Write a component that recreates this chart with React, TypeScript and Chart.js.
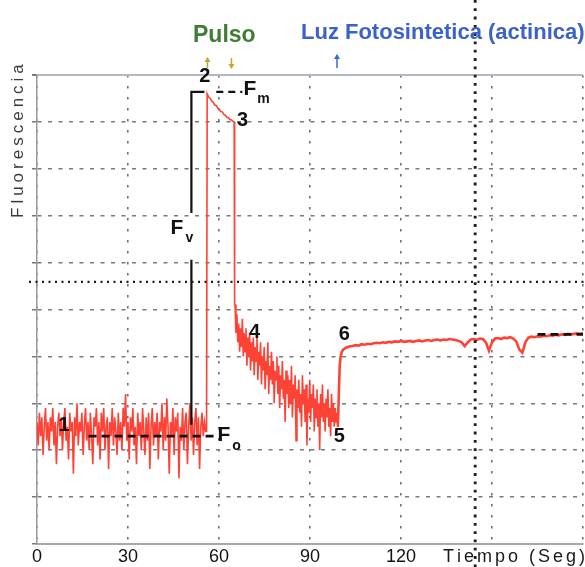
import React, { useEffect, useRef } from "react";
import { Chart, registerables } from "chart.js";

Chart.register(...registerables);

// ---- Axis / tick data ----
const xTickLabels = [0, 30, 60, 90, 120];
const xMin = 0;
const xMax = 180;
const xStep = 30;
const yMin = 0;
const yMax = 10;

// ---- Trace: dark-adapted baseline (Fo), sampled every 0.4 s from t = 0 ----
const darkStart = 0;
const darkStep = 0.4;
const darkF = [
  2.6, 2.1, 2.8, 2.3, 2.7, 1.9, 2.5, 2.9, 2.2, 2.6,
  2.0, 2.7, 2.4, 2.9, 2.1, 2.6, 1.7, 2.5, 2.8, 2.3,
  2.7, 2.0, 2.6, 2.9, 2.2, 2.5, 1.8, 2.8, 2.4, 2.6,
  1.5, 2.7, 2.3, 3.0, 2.1, 2.6, 2.4, 2.8, 1.9, 2.5,
  2.9, 2.2, 2.6, 2.0, 2.8, 2.3, 1.7, 2.7, 2.5, 2.9,
  2.1, 2.6, 1.8, 2.8, 2.4, 2.9, 2.0, 2.5, 2.7, 1.6,
  2.6, 2.3, 2.9, 2.1, 2.7, 2.4, 1.9, 2.8, 2.2, 2.6,
  2.0, 2.9, 2.5, 3.2, 2.2, 2.6, 1.8, 2.7, 2.4, 2.9,
  2.1, 2.5, 1.7, 2.8, 2.3, 2.6, 2.0, 2.9, 2.4, 1.9,
  2.7, 2.2, 2.8, 1.6, 2.5, 2.9, 2.1, 2.6, 2.3, 2.8,
  1.8, 2.6, 2.4, 3.0, 2.0, 2.7, 2.2, 3.1, 2.5, 1.5,
  2.6, 2.3, 2.9, 1.9, 2.7, 2.4, 2.8, 1.4, 2.5, 2.2,
  2.9, 2.0, 2.6, 2.8, 1.7, 2.5, 3.0, 2.2, 2.7, 1.9,
  2.6, 2.9, 2.1, 2.7, 1.6, 2.5, 2.8, 2.3, 2.6, 2.4,
];

// ---- Trace: saturating pulse (Fm) ----
const pulseT = [55.9, 56.1, 56.6, 57.1, 57.6, 58.1, 58.6, 59.1, 59.6, 60.1, 60.6, 61.1, 61.6, 62.1, 62.6, 63.1, 63.6, 64.1, 64.6, 65.0, 65.15];
const pulseF = [2.4, 9.6, 9.53, 9.5, 9.44, 9.42, 9.36, 9.35, 9.29, 9.27, 9.22, 9.21, 9.16, 9.14, 9.1, 9.09, 9.05, 9.04, 9.01, 9.0, 5.1];

// ---- Trace: decay after the pulse, sampled every 0.3 s from t = 65.3 ----
const decayStart = 65.3;
const decayStep = 0.3;
const decayF = [
  5.1, 4.5, 4.9, 4.3, 4.7, 4.1, 4.6, 4.2, 4.8, 4.0,
  4.5, 4.1, 4.6, 3.8, 4.4, 4.0, 4.5, 3.7, 4.3, 3.9,
  4.4, 3.6, 4.2, 3.9, 4.5, 3.5, 4.1, 3.8, 4.3, 3.4,
  4.0, 3.7, 4.2, 3.3, 3.9, 3.6, 4.3, 3.2, 3.8, 3.5,
  4.1, 3.4, 3.9, 3.0, 3.7, 3.5, 4.0, 3.2, 3.8, 2.9,
  3.6, 3.3, 3.9, 3.1, 3.5, 2.6, 3.7, 3.2, 3.6, 2.9,
  3.5, 3.0, 3.8, 2.7, 3.4, 3.1, 3.6, 2.2, 3.3, 2.9,
  3.5, 2.8, 3.2, 2.5, 3.6, 3.0, 3.3, 2.6, 3.4, 2.1,
  3.1, 2.8, 3.5, 2.6, 3.2, 2.9, 3.4, 2.4, 3.1, 2.7,
  3.3, 2.5, 3.0, 2.0, 3.2, 2.7, 3.4, 2.6, 3.0, 2.4,
  3.1, 2.7, 3.3, 2.5, 2.9, 2.3, 3.2, 2.6, 3.0, 2.5,
  2.9, 2.6, 2.8, 2.5,
];

// ---- Trace: actinic light on ----
const riseT = [99.2, 99.5, 99.8, 100.1, 100.5, 101, 102, 103];
const riseF = [2.5, 3.2, 3.8, 4.0, 4.1, 4.15, 4.19, 4.21];
const lightStart = 104;
const lightStep = 1;
const lightF = [
  4.22, 4.24, 4.23, 4.26, 4.25, 4.27, 4.26, 4.28, 4.29, 4.28,
  4.30, 4.29, 4.31, 4.30, 4.32, 4.31, 4.33, 4.31, 4.32, 4.33,
  4.31, 4.33, 4.34, 4.32, 4.34, 4.35, 4.33, 4.35, 4.36, 4.34,
  4.36, 4.35, 4.37, 4.36, 4.35, 4.33, 4.30, 4.22, 4.30, 4.36,
  4.37, 4.35, 4.38, 4.37, 4.30, 4.12, 4.30, 4.38, 4.39, 4.37,
  4.40, 4.39, 4.41, 4.38, 4.32, 4.15, 4.08, 4.30, 4.40, 4.42,
  4.41, 4.43, 4.42, 4.44, 4.43, 4.45, 4.44, 4.46, 4.45, 4.47,
  4.46, 4.48, 4.47, 4.48, 4.49, 4.48, 4.50,
];

// ---- Reference marks (data units: [time, fluorescence]) ----
const foLine = [[17, 2.3], [59.8, 2.3]];
const fmLine = [[59.1, 9.64], [67.7, 9.64]];
const fvBracket = [[55.2, 9.64], [50.9, 9.64], [50.9, 7.06], [50.9, null], [50.9, 6.06], [50.9, 2.54]];
const fsLine = [[165, 4.47], [180, 4.47]];
const markerLevel = 5.59; // heavy dotted horizontal
const markerTime = 144.45; // heavy dotted vertical
const pulseOnT = 56.2;
const pulseOffT = 64.1;
const actinicOnT = 98.9;

// ---- Point labels [text, time, fluorescence] ----
const pointLabels: [string, number, number][] = [
  ["1", 8.9, 2.52],
  ["2", 55.3, 9.96],
  ["3", 67.8, 9.02],
  ["4", 71.7, 4.52],
  ["5", 99.7, 2.3],
  ["6", 101.3, 4.46],
];
const fLabels: [string, string, number, number, number, number][] = [
  // main, subscript, tMain, vMain, tSub, vSub
  ["F", "m", 70.2, 9.7, 74.7, 9.49],
  ["F", "v", 46.1, 6.74, 50.2, 6.52],
  ["F", "o", 61.6, 2.32, 65.8, 2.09],
];

const FONT = "'Liberation Sans', Arial, sans-serif";

function drawSpaced(ctx: CanvasRenderingContext2D, text: string, x: number, y: number, spacing: number) {
  let cx = x;
  for (const ch of text) {
    ctx.fillText(ch, cx, y);
    cx += ctx.measureText(ch).width + spacing;
  }
}

function arrow(ctx: CanvasRenderingContext2D, x: number, yTop: number, yBot: number, up: boolean, color: string) {
  ctx.strokeStyle = color;
  ctx.fillStyle = color;
  ctx.lineWidth = 1.5;
  ctx.beginPath();
  ctx.moveTo(x, yTop);
  ctx.lineTo(x, yBot);
  ctx.stroke();
  ctx.beginPath();
  if (up) {
    ctx.moveTo(x, yTop - 1);
    ctx.lineTo(x - 3, yTop + 4);
    ctx.lineTo(x + 3, yTop + 4);
  } else {
    ctx.moveTo(x, yBot + 1);
    ctx.lineTo(x - 3, yBot - 4);
    ctx.lineTo(x + 3, yBot - 4);
  }
  ctx.closePath();
  ctx.fill();
}

const annotatePlugin = {
  id: "annotate",
  afterDraw(chart: any) {
    const { ctx, scales } = chart;
    const xs = scales.x;
    const ys = scales.y;
    const px = (t: number) => xs.getPixelForValue(t);
    const py = (v: number) => ys.getPixelForValue(v);
    ctx.save();

    // heavy dotted reference lines
    ctx.strokeStyle = "#1c1c1c";
    ctx.lineWidth = 2.2;
    ctx.setLineDash([2, 4.5]);
    ctx.beginPath();
    ctx.moveTo(29, py(markerLevel));
    ctx.lineTo(chart.width, py(markerLevel));
    ctx.stroke();
    ctx.lineWidth = 2.8;
    ctx.setLineDash([2.8, 5.5]);
    ctx.beginPath();
    ctx.moveTo(px(markerTime), 0);
    ctx.lineTo(px(markerTime), chart.height);
    ctx.stroke();
    ctx.setLineDash([]);

    // header texts
    ctx.textAlign = "left";
    ctx.textBaseline = "alphabetic";
    ctx.font = `bold 23px ${FONT}`;
    ctx.fillStyle = "#3f7d34";
    ctx.fillText("Pulso", 193, 42);
    ctx.font = `bold 22px ${FONT}`;
    ctx.fillStyle = "#3b62c8";
    ctx.fillText("Luz Fotosintetica (actinica)", 301, 39);

    // event arrows
    arrow(ctx, px(pulseOnT), 58, 68, true, "#b7a63c");
    arrow(ctx, px(pulseOffT), 58, 68, false, "#cfa22c");
    arrow(ctx, px(actinicOnT), 55, 68, true, "#3b6bd0");

    // y axis title
    ctx.save();
    ctx.translate(23, 218);
    ctx.rotate(-Math.PI / 2);
    ctx.font = `17px ${FONT}`;
    ctx.fillStyle = "#3a3a3a";
    ctx.textBaseline = "alphabetic";
    drawSpaced(ctx, "Fluorescencia", 0, 0, 4);
    ctx.restore();

    // x axis title
    ctx.font = `18px ${FONT}`;
    ctx.fillStyle = "#1a1a1a";
    ctx.textBaseline = "alphabetic";
    drawSpaced(ctx, "Tiempo (Seg)", 443, 562, 3);

    // point labels
    ctx.textAlign = "center";
    ctx.textBaseline = "middle";
    ctx.fillStyle = "#111";
    ctx.font = `bold 20px ${FONT}`;
    for (const [txt, t, v] of pointLabels) ctx.fillText(txt, px(t), py(v));
    for (const [main, sub, t1, v1, t2, v2] of fLabels) {
      ctx.font = `bold 21px ${FONT}`;
      ctx.fillText(main, px(t1), py(v1));
      ctx.font = `bold 14px ${FONT}`;
      ctx.fillText(sub, px(t2), py(v2));
    }
    ctx.restore();
  },
};

export default function App() {
  const ref = useRef<HTMLCanvasElement>(null);

  useEffect(() => {
    document.body.style.margin = "0";
    const canvas = ref.current;
    if (!canvas) return;

    const darkTrace: { x: number; y: number }[] = [];
    darkF.forEach((v, i) => darkTrace.push({ x: darkStart + i * darkStep, y: v }));
    pulseT.forEach((t, i) => darkTrace.push({ x: t, y: pulseF[i] }));
    decayF.forEach((v, i) => darkTrace.push({ x: +(decayStart + i * decayStep).toFixed(2), y: v }));

    const lightTrace: { x: number; y: number }[] = [];
    riseT.forEach((t, i) => lightTrace.push({ x: t, y: riseF[i] }));
    lightF.forEach((v, i) => lightTrace.push({ x: lightStart + i * lightStep, y: v }));

    const toPts = (arr: (number | null)[][]) => arr.map(([x, y]) => ({ x: x as number, y: y as any }));

    const blackLine = (data: any, width: number, dash: number[]) => ({
      type: "line" as const,
      data,
      borderColor: "#111",
      borderWidth: width,
      borderDash: dash,
      pointRadius: 0,
      spanGaps: false,
      order: 0,
    });

    const chart = new Chart(canvas, {
      type: "line",
      data: {
        datasets: [
          blackLine(toPts(foLine), 2.6, [8, 5]),
          blackLine(toPts(fmLine), 2.4, [7, 5]),
          blackLine(toPts(fvBracket), 2.2, []),
          blackLine(toPts(fsLine), 2.6, [8, 5]),
          {
            label: "Fluorescencia",
            data: darkTrace,
            borderColor: "#ff4236",
            borderWidth: 1.6,
            pointRadius: 0,
            tension: 0,
            order: 1,
          },
          {
            label: "Luz actinica",
            data: lightTrace,
            borderColor: "#ff4236",
            borderWidth: 2.6,
            pointRadius: 0,
            tension: 0,
            order: 1,
          },
        ],
      },
      options: {
        responsive: false,
        animation: false,
        events: [],
        layout: { padding: { left: 37, top: 75, right: 1, bottom: 0 } },
        plugins: { legend: { display: false }, tooltip: { enabled: false } },
        scales: {
          x: {
            type: "linear",
            min: xMin,
            max: xMax,
            ticks: {
              stepSize: xStep,
              autoSkip: false,
              maxRotation: 0,
              padding: 2,
              color: "#111",
              font: { family: FONT, size: 18 },
              callback: (v: any) => (xTickLabels.includes(Number(v)) ? String(v) : ""),
            },
            grid: { color: "#707070", lineWidth: 1.6, drawTicks: false },
            border: { display: true, color: "#a4a8b4", width: 2, dash: [2.5, 8.5] },
            afterFit: (s: any) => {
              s.height = 23;
            },
          },
          y: {
            min: yMin,
            max: yMax,
            ticks: { display: false, stepSize: 1 },
            grid: {
              color: (c: any) => (c.tick && c.tick.value === yMax ? "#b4b8c4" : "#7a7a7a"),
              lineWidth: (c: any) => (c.tick && c.tick.value === yMax ? 2 : 1.5),
              drawTicks: true,
              tickLength: 5,
              tickColor: "#777",
            },
            border: {
              display: true,
              color: "#9a9a9a",
              width: 1.5,
              dash: (c: any) => (c.tick && c.tick.value === yMax ? [] : [4, 6.5]),
            },
            afterFit: (s: any) => {
              s.width = 0;
            },
          },
        },
      },
      plugins: [annotatePlugin],
    } as any);

    return () => chart.destroy();
  }, []);

  return (
    <div style={{ position: "fixed", left: 0, top: 0, width: 585, height: 567, background: "#fff" }}>
      <canvas ref={ref} width={585} height={567} style={{ display: "block" }} />
    </div>
  );
}
